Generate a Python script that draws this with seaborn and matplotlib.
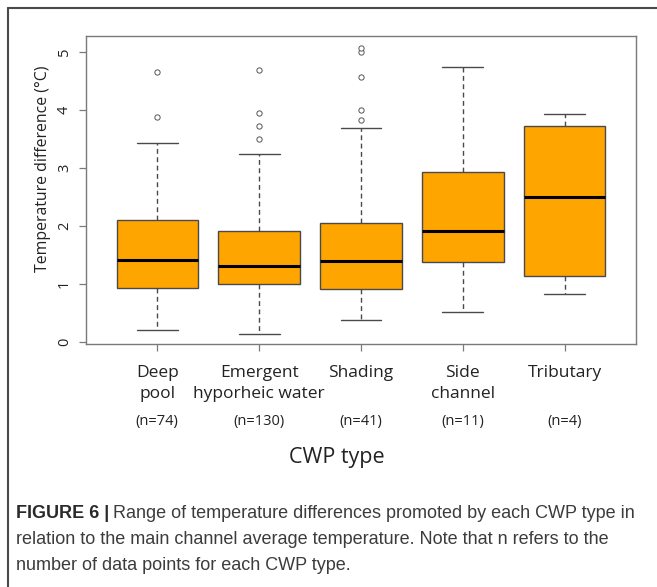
import numpy as np
import pandas as pd
import matplotlib
matplotlib.use("Agg")
import matplotlib.pyplot as plt
from matplotlib.lines import Line2D
import seaborn as sns

# ---- data ----
categories = ["Deep\npool", "Emergent\nhyporheic water", "Shading", "Side\nchannel", "Tributary"]
n_labels = ["(n=74)", "(n=130)", "(n=41)", "(n=11)", "(n=4)"]
whisker_low = [0.21, 0.15, 0.39, 0.52, 0.83]
quartile1 = [0.94, 1.01, 0.92, 1.38, 1.15]
medians = [1.42, 1.31, 1.40, 1.92, 2.51]
quartile3 = [2.10, 1.92, 2.05, 2.94, 3.72]
whisker_high = [3.43, 3.25, 3.70, 4.74, 3.93]
outlier_cat = ["Deep\npool", "Deep\npool",
               "Emergent\nhyporheic water", "Emergent\nhyporheic water",
               "Emergent\nhyporheic water", "Emergent\nhyporheic water",
               "Shading", "Shading", "Shading", "Shading", "Shading"]
outlier_val = [3.88, 4.66,
               3.50, 3.73, 3.95, 4.70,
               3.84, 4.00, 4.57, 5.00, 5.08]

# five-number summaries as a long table (quartiles reproduce exactly)
rows = []
for c, a, b, m, d, e in zip(categories, whisker_low, quartile1, medians, quartile3, whisker_high):
    for v in (a, b, m, d, e):
        rows.append({"cat": c, "val": v})
box_df = pd.DataFrame(rows)
out_df = pd.DataFrame({"cat": outlier_cat, "val": outlier_val})

sns.set_theme(style="white")
plt.rcParams["font.family"] = ["Open Sans", "DejaVu Sans"]

W, H = 657, 587
fig = plt.figure(figsize=(W / 100, H / 100), dpi=100)
ax = fig.add_axes([86 / W, 1 - 344 / H, (636 - 86) / W, (344 - 36) / H])

edge = "#4a4a4a"
sns.boxplot(data=box_df, x="cat", y="val", order=categories, ax=ax,
            color="#FFA500", saturation=1, width=0.8, whis=(0, 100),
            showfliers=False, linecolor=edge, linewidth=1.0,
            whiskerprops={"linestyle": (0, (3.5, 2.5))},
            medianprops={"color": "black", "linewidth": 2.2})
sns.stripplot(data=out_df, x="cat", y="val", order=categories, ax=ax,
              jitter=False, color="white", edgecolor="#555555",
              linewidth=0.7, size=3.8)

ax.set_xlim(-0.7, 4.7)
ax.set_ylim(-0.03, 5.28)
ax.set_yticks([0, 1, 2, 3, 4, 5])
ax.set_xlabel("")
ax.set_ylabel("")
for s in ax.spines.values():
    s.set_color("#7a7a7a")
    s.set_linewidth(1.0)
ax.tick_params(axis="both", which="both", direction="out", length=5,
               width=0.9, color="#7a7a7a", left=True, bottom=True)
ax.tick_params(axis="y", pad=5, labelsize=10.5, labelcolor="#222222")
ax.tick_params(axis="x", pad=10, labelsize=12.5, labelcolor="#222222")
for t in ax.get_yticklabels():
    t.set_rotation(90)
    t.set_va("center")
for t in ax.get_xticklabels():
    t.set_linespacing(1.45)

# (n=..) labels under each category
for i, lab in enumerate(n_labels):
    ax.text(i, 1 - (422 - 36) / 308, lab, transform=ax.get_xaxis_transform(),
            ha="center", va="center", fontsize=10.5, color="#222222")

fig.text(337 / W, 1 - 457 / H, "CWP type", ha="center", va="center",
         fontsize=15.5, color="#222222")
fig.text(43 / W, 1 - 169 / H, "Temperature difference (\u00b0C)", rotation=90,
         ha="center", va="center", fontsize=11.4, color="#222222")

# outer frame (top and left edges)
fc = "#4a4a4a"
fig.add_artist(Line2D([8 / W, 1.0], [1 - 8 / H, 1 - 8 / H], transform=fig.transFigure,
                      color=fc, linewidth=1.5))
fig.add_artist(Line2D([8 / W, 8 / W], [1 - 8 / H, 0.0], transform=fig.transFigure,
                      color=fc, linewidth=1.5))

# caption
cap_font = ["Liberation Sans", "DejaVu Sans"]
cap_size = 13.0
cap_col = "#3c3c3c"
x0 = 16 / W
t_bold = fig.text(x0, 1 - 513 / H, "FIGURE 6 |", family=cap_font, fontsize=cap_size,
                  fontweight="bold", color="#2a2a2a", va="center", ha="left")
fig.canvas.draw()
bb = t_bold.get_window_extent()
fig.text((bb.x1 + 4) / W, 1 - 513 / H,
         "Range of temperature differences promoted by each CWP type in",
         family=cap_font, fontsize=cap_size, color=cap_col, va="center", ha="left")
fig.text(x0, 1 - 540 / H,
         "relation to the main channel average temperature. Note that n refers to the",
         family=cap_font, fontsize=cap_size, color=cap_col, va="center", ha="left")
fig.text(x0, 1 - 566 / H, "number of data points for each CWP type.",
         family=cap_font, fontsize=cap_size, color=cap_col, va="center", ha="left")

fig.savefig("out.png", dpi=100)
